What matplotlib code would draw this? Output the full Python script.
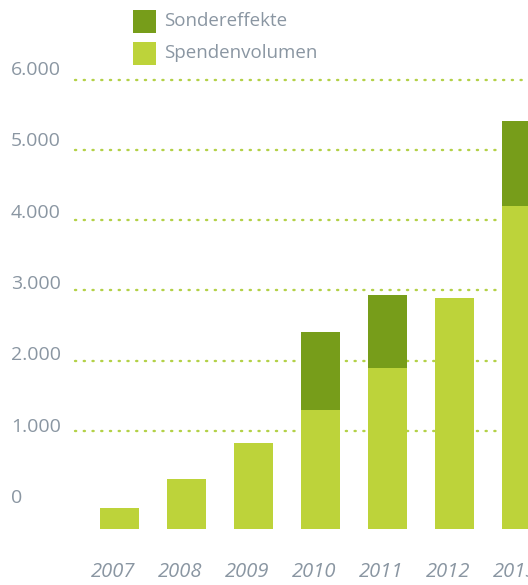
import matplotlib

matplotlib.use("Agg")
import matplotlib.pyplot as plt
import matplotlib.transforms as mtransforms
from matplotlib.patches import Rectangle

plt.rcParams["font.family"] = ["Open Sans", "DejaVu Sans"]

years = ["2007", "2008", "2009", "2010", "2011", "2012", "2013"]
spendenvolumen = [300, 720, 1220, 1690, 2300, 3290, 4600]
sondereffekte = [0, 0, 0, 1120, 1040, 0, 1210]
y_ticks = [0, 1000, 2000, 3000, 4000, 5000, 6000]
y_tick_labels = ["0", "1.000", "2.000", "3.000", "4.000", "5.000", "6.000"]

LIGHT = "#bdd33a"
DARK = "#779d1a"
GRID = "#b3d147"
TEXT = "#8a96a2"
BASE = -400  # bars hang a little below the zero line in the original

W, H = 528, 585
fig = plt.figure(figsize=(W / 100, H / 100), dpi=100)
ax = fig.add_axes([0, 0, 1, 1])
ax.set_xlim(-119.5 / 67, (W - 119.5) / 67)
ax.set_ylim(-1197, 7137)
ax.axis("off")

xs = list(range(len(years)))
ax.bar(xs, spendenvolumen, bottom=BASE, width=0.58, color=LIGHT, linewidth=0, zorder=2)
tops = [BASE + v for v in spendenvolumen]
ax.bar(xs, sondereffekte, bottom=tops, width=0.58, color=DARK, linewidth=0, zorder=2)

left_trans = mtransforms.blended_transform_factory(ax.transAxes, ax.transData)
x_grid0 = (75 - 119.5) / 67
for v, lab in zip(y_ticks, y_tick_labels):
    if v > 0:
        ax.plot([x_grid0, ax.get_xlim()[1]], [v, v], color=GRID, linewidth=1.7,
                linestyle=(0, (0.5, 3.2)), dash_capstyle="round", zorder=1)
    # labels sit slightly above their dotted line
    ax.text(11 / W, v * 1.016 + 43, lab, transform=left_trans,
            ha="left", va="center", fontsize=14, color=TEXT)

# italic year labels sit a touch left of the bar centres
for x, lab in zip(xs, years):
    ax.text(x - 0.09, -1011, lab, ha="center", va="center", fontsize=14.5,
            color=TEXT, style="italic")

# legend
for i, (lab, col) in enumerate([("Sondereffekte", DARK), ("Spendenvolumen", LIGHT)]):
    ytop = 10 + i * 32
    fig.add_artist(Rectangle((133 / W, 1 - (ytop + 23) / H), 23 / W, 23 / H,
                             transform=fig.transFigure, color=col, linewidth=0))
    fig.text(164 / W, 1 - (ytop + 11.5) / H, lab, ha="left", va="center",
             fontsize=13.5, color=TEXT)

fig.savefig("out.png", dpi=100)
